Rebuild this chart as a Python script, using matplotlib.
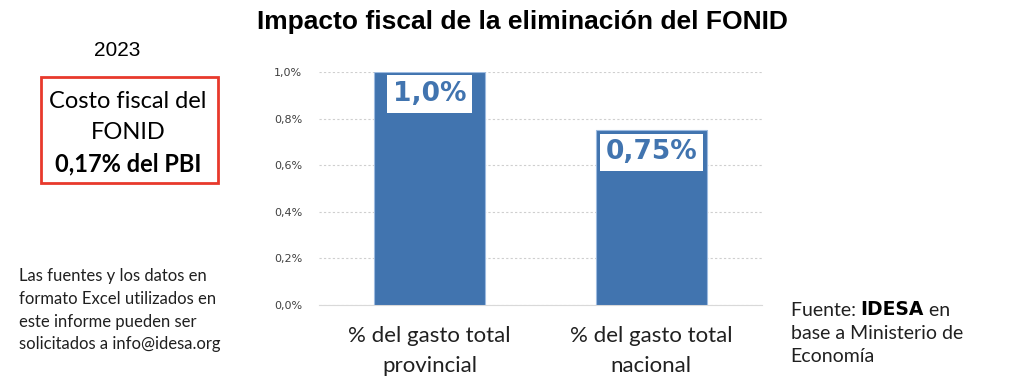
import matplotlib.pyplot as plt
from matplotlib.ticker import FuncFormatter

categories = ["% del gasto total\nprovincial", "% del gasto total\nnacional"]
values = [1.0, 0.75]
valueLabels = ["1,0%", "0,75%"]
yTicks = [0.0, 0.2, 0.4, 0.6, 0.8, 1.0]

barColor = "#4174af"
textFont = ["Lato", "DejaVu Sans"]

fig = plt.figure(figsize=(10.24, 3.83), dpi=100)
ax = fig.add_axes([0.3115, 0.2037, 0.4326, 0.6083])

positions = range(len(categories))
ax.bar(positions, values, width=0.5, color=barColor, edgecolor="#9dbbe0", linewidth=0.8, zorder=3)

# value labels in white boxes near the top of each bar
for pos, val, lab in zip(positions, values, valueLabels):
    ax.annotate(lab, (pos, val), xytext=(0, -16), textcoords="offset points",
                ha="center", va="center", fontsize=19, fontweight="bold",
                family="DejaVu Sans", color=barColor, zorder=4,
                bbox=dict(boxstyle="square,pad=0.22", fc="white", ec="none"))

ax.set_xlim(-0.5, 1.5)
ax.set_ylim(0, 1.0)
ax.set_yticks(yTicks)
ax.yaxis.set_major_formatter(FuncFormatter(lambda v, p: ("%.1f%%" % v).replace(".", ",")))
ax.set_xticks(list(positions))
ax.set_xticklabels(categories, fontsize=16, family=textFont, color="#202020", linespacing=1.62)
ax.tick_params(axis="x", length=0, pad=15)
ax.tick_params(axis="y", length=0, labelsize=8, labelcolor="#404040", pad=12)

ax.grid(axis="y", color="#cfcfcf", linestyle=(0, (2, 2)), linewidth=0.8, zorder=0)
for side in ["top", "right", "left"]:
    ax.spines[side].set_visible(False)
ax.spines["bottom"].set_color("#d9d9d9")

fig.text(0.51, 0.942, "Impacto fiscal de la eliminación del FONID", ha="center", va="center",
         fontsize=19, fontweight="bold", family="Liberation Sans")

fig.text(0.114, 0.868, "2023", ha="center", va="center", fontsize=15, family="Liberation Sans")

fig.text(0.125, 0.736, "Costo fiscal del", ha="center", va="center", fontsize=17, family=textFont)
fig.text(0.125, 0.655, "FONID", ha="center", va="center", fontsize=17, family=textFont)
fig.text(0.125, 0.572, "0,17% del PBI", ha="center", va="center", fontsize=17,
         family=textFont, fontweight="bold")
box = plt.Rectangle((0.04, 0.522), 0.173, 0.277, transform=fig.transFigure,
                    fill=False, edgecolor="#e8392c", linewidth=2)
fig.add_artist(box)

fig.text(0.019, 0.19, "Las fuentes y los datos en\nformato Excel utilizados en\neste informe pueden ser\nsolicitados a info@idesa.org",
         ha="left", va="center", fontsize=12, family=textFont, linespacing=1.52, color="#202020")

# source line: plain / heavy / plain pieces chained one after another
t1 = fig.text(0.772, 0.167, "Fuente: ", ha="left", va="bottom", fontsize=14, family=textFont, color="#202020")
t2 = ax.annotate("IDESA", xy=(1, 0), xycoords=t1, ha="left", va="bottom", fontsize=13.5,
                 family="DejaVu Sans", fontweight="heavy", color="black", annotation_clip=False)
ax.annotate(" en", xy=(1, 0), xycoords=t2, ha="left", va="bottom", fontsize=14,
            family=textFont, color="#202020", annotation_clip=False)
fig.text(0.772, 0.1, "base a Ministerio de\nEconomía", ha="left", va="center", fontsize=14,
         family=textFont, linespacing=1.4, color="#202020")

fig.savefig("out.png", dpi=100)
